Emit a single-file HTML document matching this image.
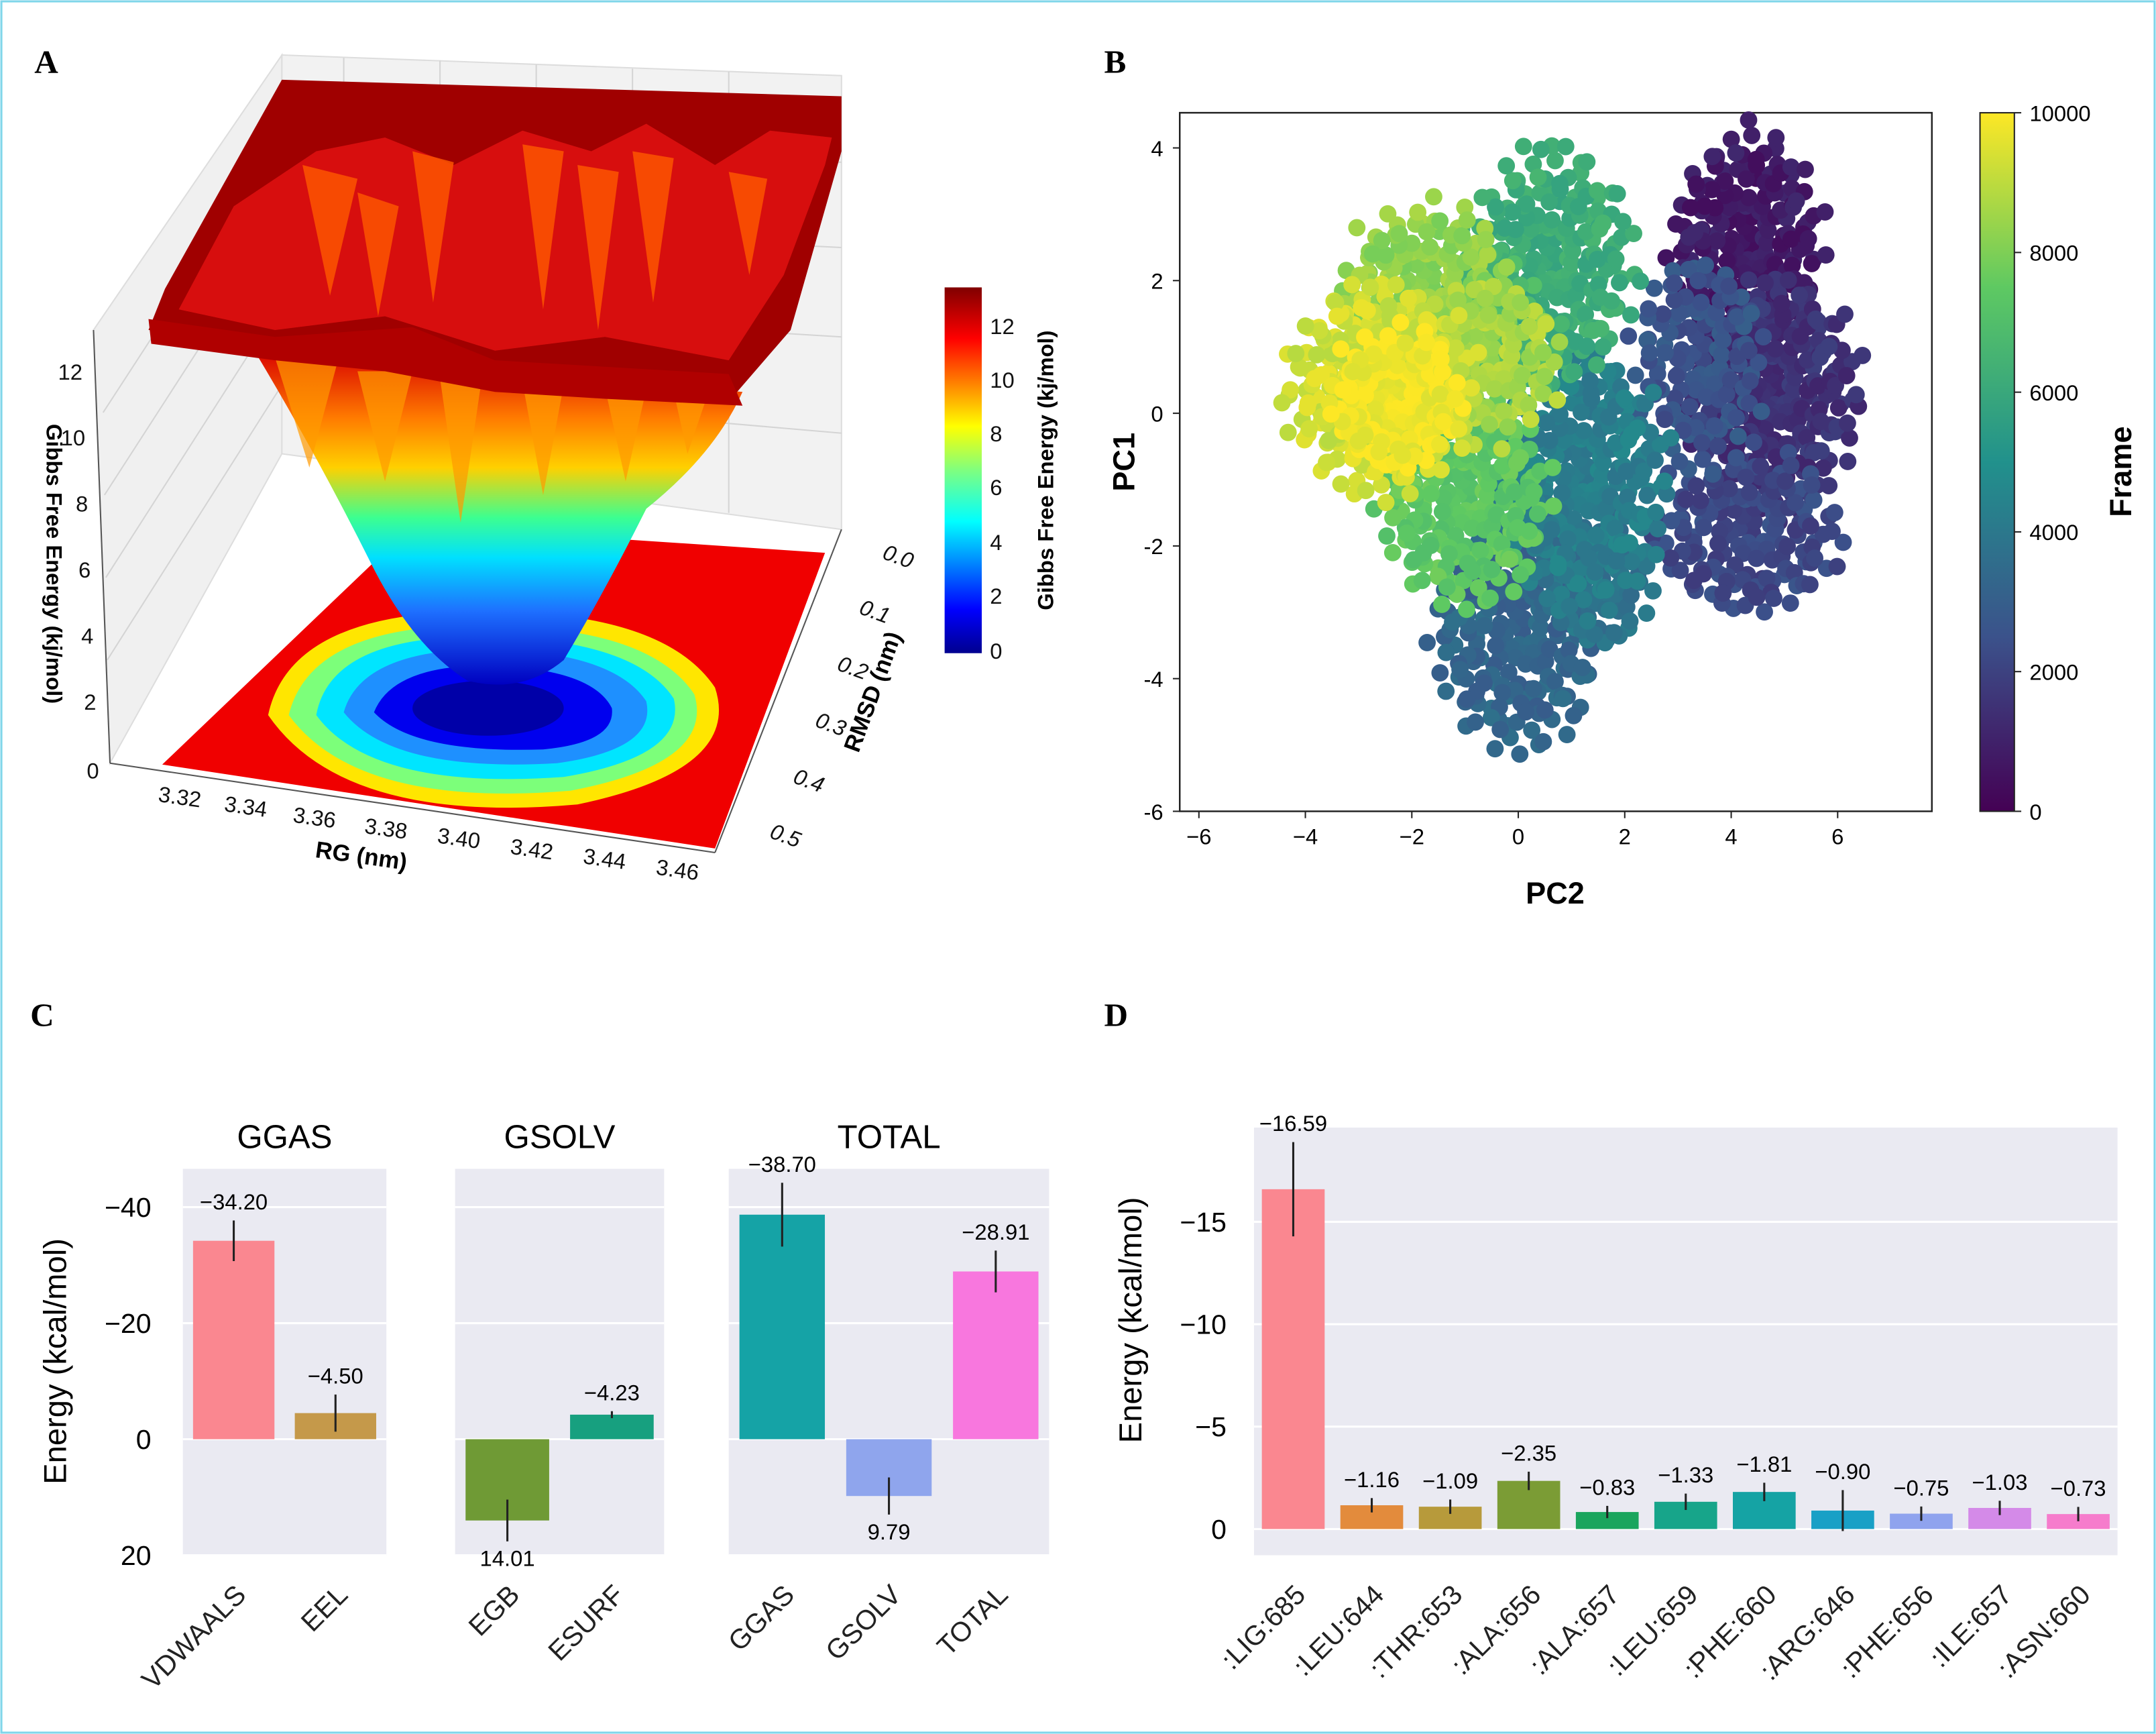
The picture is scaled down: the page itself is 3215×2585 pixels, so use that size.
<!DOCTYPE html>
<html><head><meta charset="utf-8">
<style>
html,body{margin:0;padding:0;background:#fff;}
svg{display:block;font-family:"Liberation Sans","DejaVu Sans",sans-serif;}
</style></head>
<body>
<svg id="fig" width="3215" height="2585" viewBox="0 0 1568 1261" preserveAspectRatio="none" xmlns="http://www.w3.org/2000/svg">
<defs>
<linearGradient id="jet" x1="0" y1="1" x2="0" y2="0">
<stop offset="0" stop-color="#00008f"/><stop offset="0.12" stop-color="#0000ff"/><stop offset="0.36" stop-color="#00ffff"/><stop offset="0.5" stop-color="#7fff7f"/><stop offset="0.62" stop-color="#ffff00"/><stop offset="0.86" stop-color="#ff0000"/><stop offset="1" stop-color="#800000"/>
</linearGradient>
<linearGradient id="funnel" x1="0" y1="0" x2="0" y2="1">
<stop offset="0" stop-color="#d80000"/><stop offset="0.2" stop-color="#ff7a00"/><stop offset="0.35" stop-color="#ffd000"/><stop offset="0.5" stop-color="#3cff90"/><stop offset="0.62" stop-color="#00e0ff"/><stop offset="0.78" stop-color="#1e70ff"/><stop offset="1" stop-color="#0000c0"/>
</linearGradient>
<linearGradient id="viridis" x1="0" y1="1" x2="0" y2="0">
<stop offset="0" stop-color="#440154"/><stop offset="0.25" stop-color="#3b528b"/><stop offset="0.5" stop-color="#21918c"/><stop offset="0.75" stop-color="#5ec962"/><stop offset="1" stop-color="#fde725"/>
</linearGradient>
</defs>
<rect x="1" y="1" width="1566" height="1259" fill="#fff" stroke="#7fd6ea" stroke-width="1.5"/>
<g font-family="Liberation Serif,serif" font-weight="bold" font-size="24">
<text x="25" y="53">A</text>
<text x="803" y="53">B</text>
<text x="22" y="746">C</text>
<text x="803" y="746">D</text>
</g>

<g id="panelA">
<polygon points="68,240 205,40 205,330 80,555" fill="#f0f0f0" stroke="#ddd"/>
<polygon points="205,40 612,55 612,385 205,330" fill="#f2f2f2" stroke="#ddd"/>
<g stroke="#d4d4d4" stroke-width="1" fill="none">
<line x1="250" y1="42" x2="250" y2="336"/><line x1="320" y1="44" x2="320" y2="345"/><line x1="390" y1="47" x2="390" y2="355"/><line x1="460" y1="50" x2="460" y2="364"/><line x1="530" y1="52" x2="530" y2="373"/>
<line x1="205" y1="100" x2="612" y2="118"/><line x1="205" y1="160" x2="612" y2="180"/><line x1="205" y1="220" x2="612" y2="245"/><line x1="205" y1="280" x2="612" y2="315"/>
<line x1="75" y1="300" x2="205" y2="100"/><line x1="76" y1="360" x2="205" y2="160"/><line x1="77" y1="420" x2="205" y2="220"/><line x1="78" y1="480" x2="205" y2="280"/>
</g>
<polygon points="118,556 520,617 600,402 300,382" fill="#f00000"/>
<path d="M195,520 Q210,450 330,445 Q480,440 520,500 Q540,560 420,585 Q250,600 195,520Z" fill="#ffe600"/>
<path d="M210,520 Q225,458 335,455 Q470,452 505,505 Q520,555 415,575 Q260,588 210,520Z" fill="#7cff7a"/>
<path d="M230,520 Q240,465 340,463 Q460,462 490,508 Q500,550 410,565 Q270,575 230,520Z" fill="#00e5ff"/>
<path d="M250,518 Q262,475 345,472 Q445,472 470,510 Q478,545 405,555 Q285,562 250,518Z" fill="#1e90ff"/>
<path d="M272,518 Q285,485 350,484 Q430,485 445,515 Q448,540 395,545 Q300,548 272,518Z" fill="#0000ee"/>
<ellipse cx="355" cy="515" rx="55" ry="20" fill="#0000a8"/>
<path d="M185,255 L540,285 Q520,330 470,370 Q440,430 410,480 Q380,505 340,495 Q300,470 270,410 Q230,330 185,255Z" fill="url(#funnel)"/>
<g fill="#ff9a00" opacity="0.7">
<polygon points="200,260 225,340 245,265"/><polygon points="260,270 280,350 300,270"/><polygon points="320,275 335,380 350,278"/><polygon points="380,278 395,360 410,280"/><polygon points="440,282 455,350 470,283"/><polygon points="490,285 500,330 515,286"/>
</g>
<polygon points="205,58 612,70 612,110 575,240 530,292 440,282 360,270 280,258 200,250 130,240 108,240 120,210" fill="#a00000"/>
<path d="M130,225 L200,240 L280,230 L360,255 L440,245 L530,262 L570,200 L600,120 L605,100 L560,95 L520,120 L470,90 L430,110 L380,95 L330,120 L280,100 L230,110 L170,150 Z" fill="#e01010" opacity="0.85"/>
<g fill="#ff5a00" opacity="0.8">
<polygon points="220,120 240,215 260,130"/><polygon points="300,110 315,220 330,118"/><polygon points="380,105 395,225 410,110"/><polygon points="460,110 475,220 490,115"/><polygon points="530,125 545,200 558,130"/><polygon points="260,140 275,230 290,150"/><polygon points="420,120 435,240 450,125"/>
</g>
<polygon points="108,232 200,245 300,238 360,262 530,272 540,295 440,290 360,285 280,270 200,262 110,250" fill="#b00000"/>
<line x1="80" y1="555" x2="520" y2="620" stroke="#555"/>
<line x1="520" y1="620" x2="612" y2="385" stroke="#555"/>
<line x1="68" y1="240" x2="80" y2="555" stroke="#555"/>
<g font-size="16" fill="#111" text-anchor="end">
<text x="60" y="276">12</text><text x="62" y="324">10</text><text x="64" y="372">8</text><text x="66" y="420">6</text><text x="68" y="468">4</text><text x="70" y="516">2</text><text x="72" y="566">0</text>
</g>
<text transform="translate(34,410) rotate(90)" font-size="16" font-weight="bold" text-anchor="middle">Gibbs Free Energy (kj/mol)</text>
<g font-size="16" fill="#111" text-anchor="middle">
<text transform="translate(130,585) rotate(8)">3.32</text><text transform="translate(178,592) rotate(8)">3.34</text><text transform="translate(228,600) rotate(8)">3.36</text><text transform="translate(280,608) rotate(8)">3.38</text><text transform="translate(333,615) rotate(8)">3.40</text><text transform="translate(386,623) rotate(8)">3.42</text><text transform="translate(439,630) rotate(8)">3.44</text><text transform="translate(492,638) rotate(8)">3.46</text>
</g>
<text transform="translate(262,628) rotate(8)" font-size="17" font-weight="bold" text-anchor="middle">RG (nm)</text>
<g font-size="16" fill="#111" font-style="italic">
<text transform="translate(641,406) rotate(20)">0.0</text><text transform="translate(624,446) rotate(20)">0.1</text><text transform="translate(608,487) rotate(20)">0.2</text><text transform="translate(592,528) rotate(20)">0.3</text><text transform="translate(576,569) rotate(20)">0.4</text><text transform="translate(559,609) rotate(20)">0.5</text>
</g>
<text transform="translate(640,505) rotate(-70)" font-size="17" font-weight="bold" text-anchor="middle">RMSD (nm)</text>
<rect x="687" y="209" width="27" height="266" fill="url(#jet)"/>
<g font-size="16" fill="#111">
<text x="720" y="243">12</text><text x="720" y="282">10</text><text x="720" y="321">8</text><text x="720" y="360">6</text><text x="720" y="400">4</text><text x="720" y="439">2</text><text x="720" y="479">0</text>
</g>
<text transform="translate(766,342) rotate(-90)" font-size="16" font-weight="bold" text-anchor="middle">Gibbs Free Energy (kj/mol)</text>
</g>

<g id="panelB"></g>
<g id="panelC"></g>
<g id="panelD"></g>
</svg>
<script>
const NS="http://www.w3.org/2000/svg";
function mk(parent,tag,attrs,text){const e=document.createElementNS(NS,tag);for(const k in attrs)e.setAttribute(k,attrs[k]);if(text!==undefined)e.textContent=text;parent.appendChild(e);return e;}

/* ---------- Panel B data ---------- */
const clusterPC2=[4.3,4.8,4.3,3.4,1.2,0.0,1.5,0.6,-0.7,-1.0,-1.7,-0.6,-2.6,-2.3];
const clusterPC1=[2.5,0.3,-1.8,0.8,-1.0,-3.3,-2.5,2.2,1.0,-1.3,1.9,0.8,0.4,0.2];
const clusterSdX=[0.8,0.9,1.0,0.7,0.9,0.9,0.6,0.9,0.8,0.9,0.9,0.8,1.0,0.7];
const clusterSdY=[1.0,1.0,0.7,0.9,1.1,1.0,0.6,1.0,0.8,0.9,0.7,0.7,0.9,0.6];
const clusterFrame=[800,1500,2200,2600,4300,3300,3800,6200,6800,7400,8300,8700,9300,9900];
const clusterCount=[200,250,150,120,250,200,80,220,100,200,150,120,250,150];
const xTicksB=[-6,-4,-2,0,2,4,6];
const yTicksB=[4,2,0,-2,-4,-6];
const cbTicksB=[0,2000,4000,6000,8000,10000];

const B={x0:858,x1:1405,y0:82,y1:590,xmin:-6.36,xmax:7.77,ymin:-6,ymax:4.53};
const bx=v=>B.x0+(v-B.xmin)/(B.xmax-B.xmin)*(B.x1-B.x0);
const by=v=>B.y1-(v-B.ymin)/(B.ymax-B.ymin)*(B.y1-B.y0);
const vir=[[68,1,84],[59,82,139],[33,145,140],[94,201,98],[253,231,37]];
function viridis(t){t=Math.max(0,Math.min(1,t))*4;const i=Math.min(3,Math.floor(t)),f=t-i;const a=vir[i],b=vir[i+1];return `rgb(${a.map((c,k)=>Math.round(c+(b[k]-c)*f)).join(',')})`;}
(function(){
const g=document.getElementById('panelB');
mk(g,'rect',{x:B.x0,y:B.y0,width:B.x1-B.x0,height:B.y1-B.y0,fill:'#fff',stroke:'#222','stroke-width':1.2,});
const pts=mk(g,'g',{});
const order=clusterFrame.map((f,i)=>i).sort((a,b)=>clusterFrame[a]-clusterFrame[b]);
const ga=2.39996;
order.forEach(ci=>{
 const n=clusterCount[ci];
 for(let k=0;k<n;k++){
  const r=Math.sqrt((k+0.5)/n)*1.7; const th=k*ga;
  const px=clusterPC2[ci]+clusterSdX[ci]*r*Math.cos(th)*(1+0.18*Math.sin(k*1.7));
  const py=clusterPC1[ci]+clusterSdY[ci]*r*Math.sin(th)*(1+0.18*Math.cos(k*2.3));
  const fr=clusterFrame[ci]+((k*37)%11-5)*80;
  const c=mk(pts,'circle',{cx:bx(px).toFixed(1),cy:by(py).toFixed(1),r:6.3,fill:viridis(fr/10000)});
  
  
 }
});
xTicksB.forEach(v=>{mk(g,'line',{x1:bx(v),x2:bx(v),y1:B.y1,y2:B.y1+5,stroke:'#222'});const t=mk(g,'text',{x:bx(v),y:B.y1+24,'font-size':16,'text-anchor':'middle'},v<0?'\u2212'+(-v):v);});
yTicksB.forEach(v=>{mk(g,'line',{x1:B.x0-5,x2:B.x0,y1:by(v),y2:by(v),stroke:'#222'});const t=mk(g,'text',{x:B.x0-12,y:by(v)+6,'font-size':16,'text-anchor':'end'},v<0?'-'+(-v):v);});
mk(g,'text',{x:1131,y:657,'font-size':22,'font-weight':'bold','text-anchor':'middle',},'PC2');
mk(g,'text',{transform:'translate(825,336) rotate(-90)','font-size':22,'font-weight':'bold','text-anchor':'middle',},'PC1');
mk(g,'rect',{x:1440,y:82,width:25,height:508,fill:'url(#viridis)',stroke:'#222','stroke-width':1,});
cbTicksB.forEach(v=>{const y=590-v/10000*508;mk(g,'line',{x1:1465,x2:1470,y1:y,y2:y,stroke:'#222'});const t=mk(g,'text',{x:1476,y:y+6,'font-size':16},v);});
mk(g,'text',{transform:'translate(1550,343) rotate(-90)','font-size':22,'font-weight':'bold','text-anchor':'middle',},'Frame');
})();

/* ---------- Panel C data ---------- */
const groupNames=['GGAS','GSOLV','TOTAL'];
const cCategories=[['VDWAALS','EEL'],['EGB','ESURF'],['GGAS','GSOLV','TOTAL']];
const cValues=[[-34.20,-4.50],[14.01,-4.23],[-38.70,9.79,-28.91]];
const cErrs=[[3.5,3.2],[3.6,0.6],[5.5,3.2,3.6]];
const cTicks=[-40,-20,0,20];
const cColors=[['#fa8790','#c5994a'],['#6f9a35','#17a07f'],['#15a3a6','#8fa5ed','#f877de']];
(function(){
const g=document.getElementById('panelC');
const yTop=850,yBot=1131,vTop=-46.6,vBot=20;
const cy=v=>yTop+(v-vTop)/(vBot-vTop)*(yBot-yTop);
const boxes=[[133,281],[331,483],[530,763]];
groupNames.forEach((nm,gi)=>{
 const [x0,x1]=boxes[gi];
 const sub=mk(g,'g',{});
 
 
 mk(sub,'rect',{x:x0,y:yTop,width:x1-x0,height:yBot-yTop,fill:'#eaeaf2'});
 cTicks.forEach(v=>mk(sub,'line',{x1:x0,x2:x1,y1:cy(v),y2:cy(v),stroke:'#fff','stroke-width':1.5}));
 mk(sub,'text',{x:(x0+x1)/2,y:835,'font-size':24,'text-anchor':'middle'},nm);
 const n=cCategories[gi].length, step=(x1-x0)/n, bw=step*0.8;
 cCategories[gi].forEach((cat,i)=>{
  const cx=x0+step*(i+0.5), v=cValues[gi][i], e=cErrs[gi][i];
  const r=mk(sub,'rect',{x:cx-bw/2,y:Math.min(cy(0),cy(v)),width:bw,height:Math.abs(cy(v)-cy(0)),fill:cColors[gi][i]});
  
  
  mk(sub,'line',{x1:cx,x2:cx,y1:cy(v-e),y2:cy(v+e),stroke:'#222','stroke-width':1.5});
  const ly=v<0?cy(v-e)-8:cy(v+e)+18;
  const t=mk(sub,'text',{x:cx,y:ly,'font-size':16,'text-anchor':'middle'},v<0?'\u2212'+(-v).toFixed(2):v.toFixed(2));
  
  
  const tl=mk(sub,'text',{transform:`translate(${cx+10},${yBot+30}) rotate(-45)`,'font-size':20,'text-anchor':'end','fill':'#222'},cat);
  
  
 });
});
cTicks.forEach(v=>{const t=mk(g,'text',{x:110,y:cy(v)+7,'font-size':20,'text-anchor':'end'},v<0?'\u2212'+(-v):v);});
mk(g,'text',{transform:'translate(48,990) rotate(-90)','font-size':23,'text-anchor':'middle',},'Energy (kcal/mol)');
})();

/* ---------- Panel D data ---------- */
const dResidues=[':LIG:685',':LEU:644',':THR:653',':ALA:656',':ALA:657',':LEU:659',':PHE:660',':ARG:646',':PHE:656',':ILE:657',':ASN:660'];
const dValues=[-16.59,-1.16,-1.09,-2.35,-0.83,-1.33,-1.81,-0.90,-0.75,-1.03,-0.73];
const dErrors=[2.3,0.35,0.35,0.45,0.3,0.4,0.45,1.0,0.35,0.35,0.35];
const dTicks=[-15,-10,-5,0];
const dColors=['#fa8790','#e38b3c','#b79a3b','#7b9c35','#1aa55d','#17a58a','#15a3a4','#19a0c6','#8fa3ee','#d48ae8','#f67ccc'];
(function(){
const g=document.getElementById('panelD');
const x0=912,x1=1540,yTop=820,yBot=1131,vTop=-19.6,vBot=1.28;
const dy=v=>yTop+(v-vTop)/(vBot-vTop)*(yBot-yTop);
mk(g,'rect',{x:x0,y:yTop,width:x1-x0,height:yBot-yTop,fill:'#eaeaf2',});
dTicks.forEach(v=>{mk(g,'line',{x1:x0,x2:x1,y1:dy(v),y2:dy(v),stroke:'#fff','stroke-width':1.5});const t=mk(g,'text',{x:x0-20,y:dy(v)+7,'font-size':20,'text-anchor':'end'},v<0?'\u2212'+(-v):v);});
const step=(x1-x0)/dResidues.length,bw=step*0.8;
dResidues.forEach((res,i)=>{
 const cx=x0+step*(i+0.5),v=dValues[i],e=dErrors[i];
 const r=mk(g,'rect',{x:cx-bw/2,y:dy(v),width:bw,height:dy(0)-dy(v),fill:dColors[i]});
 
 
 mk(g,'line',{x1:cx,x2:cx,y1:dy(v-e),y2:dy(v+e),stroke:'#222','stroke-width':1.5});
 const t=mk(g,'text',{x:cx,y:dy(v-e)-8,'font-size':16,'text-anchor':'middle'},'\u2212'+(-v).toFixed(2));
 
 
 const tl=mk(g,'text',{transform:`translate(${cx+10},${yBot+30}) rotate(-45)`,'font-size':20,'text-anchor':'end','fill':'#222'},res);
 
 
});
mk(g,'text',{transform:'translate(830,960) rotate(-90)','font-size':23,'text-anchor':'middle',},'Energy (kcal/mol)');
})();
</script>
</body></html>
